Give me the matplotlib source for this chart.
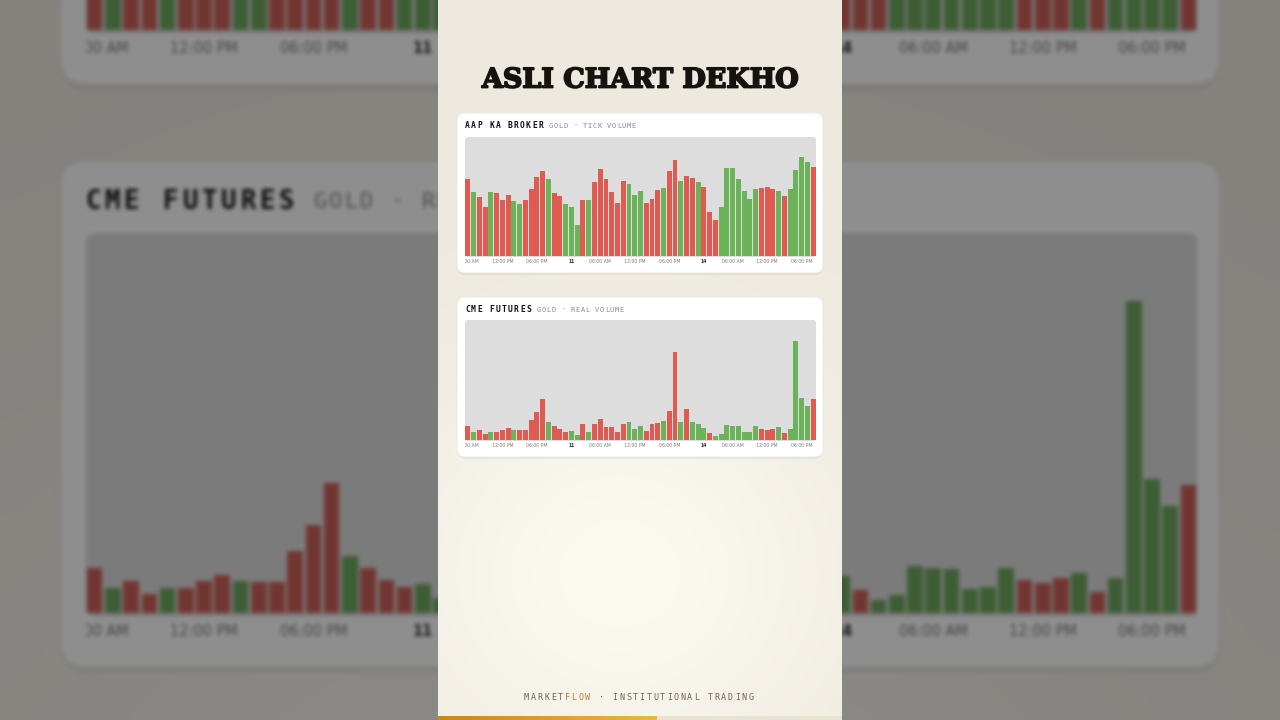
import matplotlib
matplotlib.use('Agg')
import matplotlib.pyplot as plt
import matplotlib.patheffects as pe
import numpy as np
from matplotlib.patches import FancyBboxPatch
from matplotlib.transforms import Bbox, TransformedBbox

W, H = 1280, 720
FRAME_W, FRAME_H = 404, 720
BG_SCALE = W / FRAME_W

# broker tick volume, one bar per hour (1 = up candle, 0 = down candle)
tick_volume = [77, 64, 59, 49, 64, 63, 56, 61, 55, 52,
               56, 67, 79, 85, 77, 63, 60, 52, 49, 31,
               56, 56, 74, 87, 77, 64, 53, 75, 72, 61,
               65, 53, 57, 66, 68, 85, 96, 75, 80, 78,
               74, 69, 44, 36, 49, 88, 88, 77, 65, 57,
               67, 68, 69, 67, 65, 60, 67, 86, 99, 94, 89]
tick_up = [0, 1, 0, 0, 1, 0, 0, 0, 1, 1,
           0, 0, 0, 0, 1, 0, 0, 1, 1, 1,
           0, 1, 0, 0, 0, 0, 0, 0, 1, 1,
           1, 0, 0, 0, 1, 0, 0, 1, 0, 0,
           1, 0, 0, 0, 1, 1, 1, 1, 1, 1,
           1, 0, 0, 0, 1, 0, 1, 1, 1, 1, 0]

# CME real volume
real_volume = [14.3, 8, 10.3, 6.3, 8, 8, 10.3, 12, 10.3, 10,
               10, 19.7, 28, 41.3, 18, 14.3, 10.7, 8.3, 9.3, 5,
               15.7, 8, 16.3, 20.7, 12.7, 13.3, 8.3, 15.7, 17.7, 11.3,
               14.5, 9.3, 15.7, 16.7, 19, 29, 88, 18.3, 30.7, 17.7,
               15.7, 11.7, 7.3, 4.3, 5.7, 15, 14.3, 14, 7.7, 8.3,
               14.3, 10.7, 9.7, 11.3, 12.7, 6.7, 11.3, 98.7, 42.3, 34, 40.7]
real_up = [0, 1, 0, 0, 1, 0, 0, 0, 1, 0,
           0, 0, 0, 0, 1, 0, 0, 0, 1, 1,
           0, 1, 0, 0, 0, 0, 0, 0, 1, 1,
           1, 0, 0, 0, 1, 0, 0, 1, 0, 1,
           1, 1, 0, 1, 1, 1, 1, 1, 1, 1,
           1, 0, 0, 0, 1, 0, 1, 1, 1, 1, 0]

tick_pos = [0, 6, 12, 18, 23, 29, 35, 41, 46, 52, 58]
tick_labels = ['06:00 AM', '12:00 PM', '06:00 PM', '11', '06:00 AM', '12:00 PM',
               '06:00 PM', '14', '06:00 AM', '12:00 PM', '06:00 PM']

RED = '#df5a50'
GREEN = '#6bb259'
MONO = 'DejaVu Sans Mono'


def spaced_text(ax, x, y, s, pitch, colors, **kw):
    for i, ch in enumerate(s):
        ax.text(x + i * pitch, y, ch, color=colors[i] if isinstance(colors, list) else colors,
                ha='left', va='center', family=MONO, **kw)


def draw_frame(fig, ox, oy, s, z):
    canvas = fig.add_axes([0, 0, 1, 1])
    canvas.set_zorder(z)

    def P(fx, fy):
        return ox + s * fx, oy + s * fy

    # cream background with a soft glow
    yy, xx = np.mgrid[0:1:90j, 0:1:50j]
    glow = np.exp(-(((xx - 0.45) / 0.6) ** 2 + ((yy - 0.8) / 0.3) ** 2))
    base = np.array([237, 233, 222]) / 255
    light = np.array([252, 249, 241]) / 255
    grad = base + (light - base) * glow[..., None]
    x0, y0 = P(0, 0)
    x1, y1 = P(FRAME_W, FRAME_H)
    canvas.imshow(grad, extent=(x0, x1, y1, y0), origin='upper',
                  interpolation='bicubic', aspect='auto')

    # bottom progress bar
    gold = np.linspace(0, 1, 60)[None, :, None]
    gcol = np.array([199, 135, 30]) / 255 * (1 - gold) + np.array([233, 183, 66]) / 255 * gold
    gx0, gy0 = P(0, 716)
    gx1, gy1 = P(219, 720)
    canvas.imshow(gcol, extent=(gx0, gx1, gy1, gy0), origin='upper', aspect='auto')
    rx0, _ = P(219, 716)
    canvas.add_patch(plt.Rectangle((rx0, gy0), x1 - rx0, gy1 - gy0, color='#e9e2d3', lw=0))

    canvas.text(*P(202, 80), 'ASLI CHART DEKHO', ha='center', va='center',
                fontsize=19.4 * s, family='DejaVu Serif', weight='bold', color='#15120f',
                path_effects=[pe.withStroke(linewidth=1.3 * s, foreground='#15120f')])

    cards = [
        (113, 'AAP KA BROKER', 'GOLD · TICK VOLUME', 111, tick_volume, tick_up, 137, 256, 119),
        (297, 'CME FUTURES', 'GOLD · REAL VOLUME', 99, real_volume, real_up, 320, 440, 120),
    ]
    for top, name, sub, sub_x, vals, up, py0, py1, ymax in cards:
        cx, cy = P(19, top)
        sh = FancyBboxPatch((cx, cy + 2 * s), 366 * s, 160 * s,
                            boxstyle=f'round,pad=0,rounding_size={9 * s}',
                            fc='black', ec='none', alpha=0.05)
        canvas.add_patch(sh)
        card = FancyBboxPatch((cx, cy), 366 * s, 160 * s,
                              boxstyle=f'round,pad=0,rounding_size={8 * s}',
                              fc='white', ec='#ece8df', lw=0.6 * s)
        canvas.add_patch(card)
        gx, gy = P(27, py0)
        canvas.add_patch(FancyBboxPatch((gx, gy), 351 * s, (py1 + 1 - py0) * s,
                                        boxstyle=f'round,pad=0,rounding_size={3 * s}',
                                        fc='#dddddd', ec='none'))
        tx, ty = P(27, top + 13)
        spaced_text(canvas, tx, ty, name, 6.1 * s, '#111111', fontsize=5.8 * s, weight='bold')
        sx, _ = P(sub_x, 0)
        spaced_text(canvas, sx, ty, sub, 4.85 * s, '#8a8a8a', fontsize=5.0 * s)

        left = (ox + 27 * s) / W
        width = 351 * s / W
        bottom = 1 - (oy + py1 * s) / H
        height = (py1 - py0) * s / H
        ax = fig.add_axes([left, bottom, width, height])
        ax.set_zorder(z + 1)
        colors = [GREEN if u else RED for u in up]
        ax.bar(np.arange(len(vals)), vals, width=0.86, color=colors, lw=0)
        ax.set_xlim(-0.5, len(vals) - 0.5)
        ax.set_ylim(0, ymax)
        ax.patch.set_alpha(0)
        for sp in ax.spines.values():
            sp.set_visible(False)
        ax.set_yticks([])
        ax.set_xticks(tick_pos)
        ax.set_xticklabels(tick_labels)
        ax.tick_params(axis='x', length=0, pad=2.4 * s, labelsize=3.3 * s, colors='#7a7a7a')
        clip = TransformedBbox(Bbox.from_extents(0, -1, 1, 1), ax.transAxes)
        for lbl in ax.get_xticklabels():
            lbl.set_clip_box(clip)
            lbl.set_clip_on(True)
            if lbl.get_text() in ('11', '14'):
                lbl.set_fontweight('bold')
                lbl.set_color('#333333')

    fx, fy = P(86, 698)
    foot = 'MARKETFLOW · INSTITUTIONAL TRADING'
    fcols = ['#c27a22' if 6 <= i < 10 else '#6d6557' for i in range(len(foot))]
    spaced_text(canvas, fx, fy, foot, 6.8 * s, fcols, fontsize=6.0 * s)

    canvas.set_xlim(0, W)
    canvas.set_ylim(H, 0)
    canvas.axis('off')


def box_blur(img, r):
    k = 2 * r + 1
    for axis in (0, 1):
        pad = [(0, 0)] * 3
        pad[axis] = (r + 1, r)
        p = np.pad(img, pad, mode='edge')
        c = np.cumsum(p, axis=axis)
        if axis == 0:
            img = (c[k:] - c[:-k]) / k
        else:
            img = (c[:, k:] - c[:, :-k]) / k
    return img


# blurred, darkened enlarged copy behind the vertical frame
bgfig = plt.figure(figsize=(W / 100, H / 100), dpi=100)
draw_frame(bgfig, W / 2 - FRAME_W / 2 * BG_SCALE, H / 2 - FRAME_H / 2 * BG_SCALE, BG_SCALE, 0)
bgfig.canvas.draw()
bg = np.asarray(bgfig.canvas.buffer_rgba())[..., :3].astype(float) / 255
plt.close(bgfig)
bg = box_blur(box_blur(bg, 2), 2)
grey = bg.mean(axis=2, keepdims=True)
bg = (bg * 0.8 + grey * 0.2) * 0.56

fig = plt.figure(figsize=(W / 100, H / 100), dpi=100)
ax_bg = fig.add_axes([0, 0, 1, 1])
ax_bg.set_zorder(-10)
ax_bg.imshow(bg, aspect='auto', interpolation='none')
ax_bg.axis('off')

draw_frame(fig, (W - FRAME_W) / 2, 0, 1, 0)

fig.savefig('out.png', dpi=100)
